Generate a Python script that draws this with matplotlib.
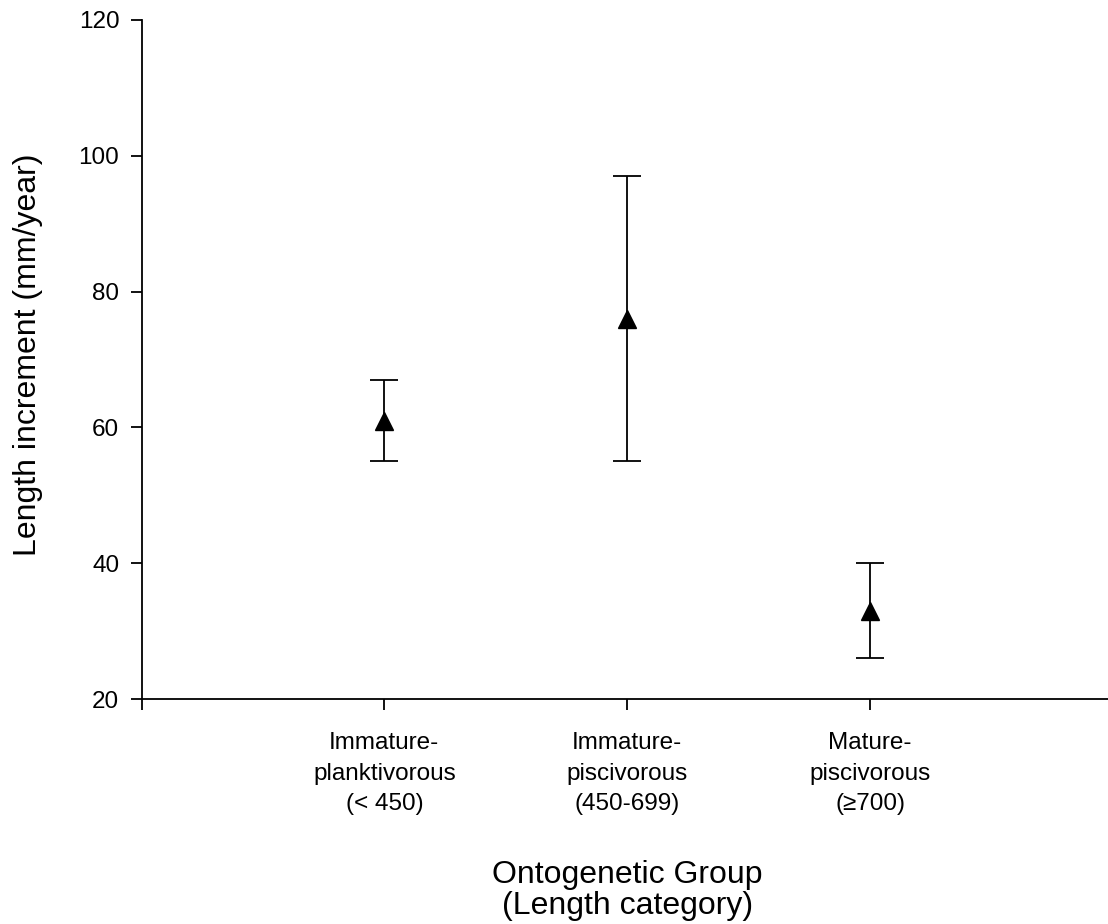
import matplotlib
matplotlib.use("Agg")
import matplotlib.pyplot as plt

plt.rcParams['font.family'] = ['Liberation Sans', 'DejaVu Sans']

categories = ["Immature-\nplanktivorous\n(< 450)", "Immature-\npiscivorous\n(450-699)", "Mature-\npiscivorous\n(≥700)"]
means = [61, 76, 33]
lower = [55, 55, 26]
upper = [67, 97, 40]
yticks = [20, 40, 60, 80, 100, 120]

fig = plt.figure(figsize=(11.08, 9.24), dpi=100)
unit = 242.85
ax = fig.add_axes([141.5/1108, 1 - 699/924, 4*unit/1108, (699-20)/924])

x = [1, 2, 3]
yerr = [[m - l for m, l in zip(means, lower)], [u - m for m, u in zip(means, upper)]]
ax.errorbar(x, means, yerr=yerr, fmt='^', color='black', ms=13, capsize=10,
            elinewidth=1.3, capthick=1.3, clip_on=False)

ax.set_xlim(0, 4)
ax.set_ylim(20, 120)
ax.set_yticks(yticks)
ax.set_xticks([0, 1, 2, 3])
ax.set_xticklabels([""] + categories, fontsize=17.5, linespacing=1.5)
ax.tick_params(axis='both', direction='out', length=8, width=1.3, labelsize=17.5)
ax.tick_params(axis='x', pad=16)
ax.tick_params(axis='y', pad=8)
for s in ['top', 'right']:
    ax.spines[s].set_visible(False)
for s in ['left', 'bottom']:
    ax.spines[s].set_linewidth(1.3)

ax.set_ylabel("Length increment (mm/year)", fontsize=23)
ax.yaxis.set_label_coords(-0.1015, 0.507)
ax.set_xlabel("Ontogenetic Group\n(Length category)", fontsize=23, labelpad=32, linespacing=1.05)

fig.savefig("out.png", dpi=100)
